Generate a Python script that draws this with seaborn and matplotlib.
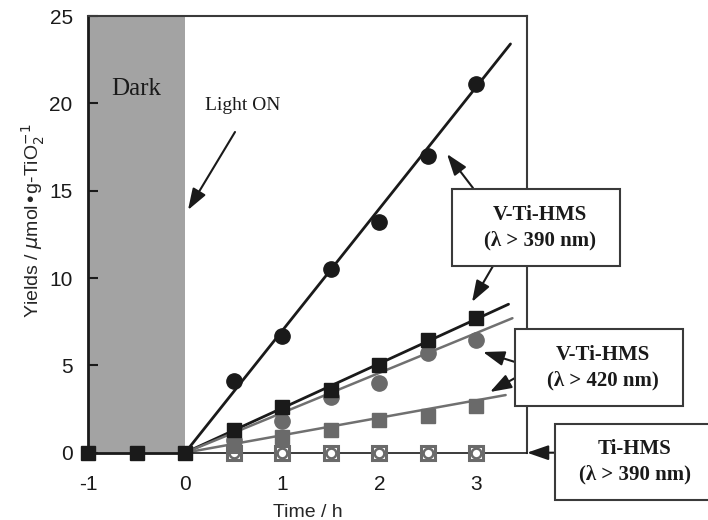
import matplotlib
matplotlib.use("Agg")
import matplotlib.pyplot as plt
from matplotlib.patches import Rectangle
import numpy as np
import pandas as pd
import seaborn as sns

# Time points (h)
t_dark = [-1.0, -0.5, 0.0]
t_light = [0.5, 1.0, 1.5, 2.0, 2.5, 3.0]

# Yields (umol / g-TiO2)
vti390_circle = [4.1, 6.7, 10.5, 13.2, 17.0, 21.1]
vti390_square = [1.3, 2.6, 3.6, 5.0, 6.45, 7.7]
vti420_circle = [0.75, 1.8, 3.2, 4.0, 5.7, 6.45]
vti420_square = [0.35, 0.9, 1.3, 1.85, 2.1, 2.65]
tihms_square = [0, 0, 0, 0, 0, 0]
tihms_circle = [0, 0, 0, 0, 0, 0]
dark_yield = [0, 0, 0]

# fitted straight lines: end point (time, yield), all start at (0, 0)
fit_ends = {
    "vti390_circle": (3.35, 23.4),
    "vti390_square": (3.33, 8.5),
    "vti420_circle": (3.37, 7.7),
    "vti420_square": (3.30, 3.3),
    "tihms": (3.52, 0.0),
}

xticks = [-1, 0, 1, 2, 3]
yticks = [0, 5, 10, 15, 20, 25]

sns.set_style("ticks")
plt.rcParams["font.family"] = ["Liberation Sans", "DejaVu Sans"]
plt.rcParams["axes.unicode_minus"] = False

W, H = 708, 520
fig = plt.figure(figsize=(W / 100, H / 100), dpi=100)
ax = fig.add_axes([88 / W, 1 - 452.7 / H, (527 - 88) / W, (452.7 - 16) / H])

BLACK = "#1a1a1a"
GRAY = "#6a6a6a"
GRAY_LINE = "#707070"

# dark period shading
ax.axvspan(-1, 0, color="#a3a3a3", lw=0, zorder=0)

# fitted lines
line_colors = {"vti390_circle": BLACK, "vti390_square": BLACK,
               "vti420_circle": GRAY_LINE, "vti420_square": GRAY_LINE, "tihms": BLACK}
line_widths = {"vti390_circle": 2.0, "vti390_square": 2.0,
               "vti420_circle": 1.8, "vti420_square": 1.8, "tihms": 1.2}
for key, (xe, ye) in fit_ends.items():
    sns.lineplot(x=[0, xe], y=[0, ye], ax=ax, color=line_colors[key],
                 lw=line_widths[key], zorder=3, clip_on=False)
sns.lineplot(x=t_dark, y=dark_yield, ax=ax, color=BLACK, lw=2.0, zorder=3, clip_on=False)

# open markers (Ti-HMS)
ax.plot(t_light, tihms_square, ls="none", marker="s", ms=10, mfc="white",
        mec=GRAY, mew=2.2, zorder=4, clip_on=False)
ax.plot(t_light, tihms_circle, ls="none", marker="o", ms=7, mfc="none",
        mec=GRAY, mew=1.8, zorder=5, clip_on=False)

# filled markers
ax.plot(t_light, vti420_square, ls="none", marker="s", ms=10, color=GRAY, zorder=5)
ax.plot(t_light, vti420_circle, ls="none", marker="o", ms=11, color=GRAY, zorder=5)
ax.plot(t_light, vti390_square, ls="none", marker="s", ms=10, color=BLACK, zorder=6)
ax.plot(t_light, vti390_circle, ls="none", marker="o", ms=11, color=BLACK, zorder=6)
ax.plot(t_dark, dark_yield, ls="none", marker="s", ms=10, color=BLACK, zorder=6, clip_on=False)

ax.set_xlim(-1, 3.52)
ax.set_ylim(0, 25)
ax.set_xticks(xticks)
ax.set_yticks(yticks)
ax.tick_params(axis="y", direction="in", length=7, width=1.5, pad=11,
               labelsize=15, colors=BLACK)
ax.tick_params(axis="x", length=0, pad=16, labelsize=15, colors=BLACK)
ax.set_xlabel("Time / h", fontsize=14, labelpad=7)
ax.set_ylabel("Yields / $\\mu$mol\u2022g-TiO$_2^{-1}$", fontsize=14)
ax.yaxis.set_label_coords(-0.093, 0.53)

ax.spines["bottom"].set_visible(False)
ax.spines["left"].set_linewidth(2.0)
ax.spines["left"].set_color(BLACK)
for s in ("top", "right"):
    ax.spines[s].set_linewidth(1.5)
    ax.spines[s].set_color("#3a3a3a")

serif = ["Liberation Serif", "DejaVu Serif"]
ax.text(-0.5, 20.8, "Dark", family=serif, fontsize=18, ha="center", va="center", color=BLACK)
ax.text(0.59, 19.9, "Light ON", family=serif, fontsize=14, ha="center", va="center", color=BLACK)


def fig_pt(px, py):
    return (px / W, 1 - py / H)


arrow = dict(arrowstyle="-|>,head_length=1.3,head_width=0.45", color=BLACK, lw=1.5,
             shrinkA=0, shrinkB=0)
ax.annotate("", xy=fig_pt(188, 210), xycoords="figure fraction",
            xytext=fig_pt(235, 132), textcoords="figure fraction", arrowprops=arrow)

# label boxes (figure pixels: x0, y0 top, x1, y1 bottom)
boxes = [
    ((452, 189, 620, 266), "V-Ti-HMS\n(\u03bb > 390 nm)"),
    ((515, 329, 683, 406), "V-Ti-HMS\n(\u03bb > 420 nm)"),
    ((555, 424, 720, 500), "Ti-HMS\n(\u03bb > 390 nm)"),
]
for (x0, y0, x1, y1), label in boxes:
    fig.patches.append(Rectangle(fig_pt(x0, y1), (x1 - x0) / W, (y1 - y0) / H,
                                 transform=fig.transFigure, fc="white", ec="#3a3a3a",
                                 lw=1.5, zorder=10))
    cx = (x0 + min(x1, 707)) / 2 + 4
    fig.text(cx / W, 1 - (y0 + y1) / 2 / H, label, family=serif, fontweight="bold",
             fontsize=15, ha="center", va="center", linespacing=1.35, color=BLACK, zorder=11)

arrows = [
    ((473, 188), (447, 154)),
    ((493, 266), (472, 302)),
    ((515, 362), (483, 352)),
    ((515, 378), (490, 392)),
    ((555, 452.7), (527, 452.7)),
]
for start, end in arrows:
    ax.annotate("", xy=fig_pt(*end), xycoords="figure fraction",
                xytext=fig_pt(*start), textcoords="figure fraction",
                arrowprops=arrow, annotation_clip=False)

fig.savefig("out.png", dpi=100)
